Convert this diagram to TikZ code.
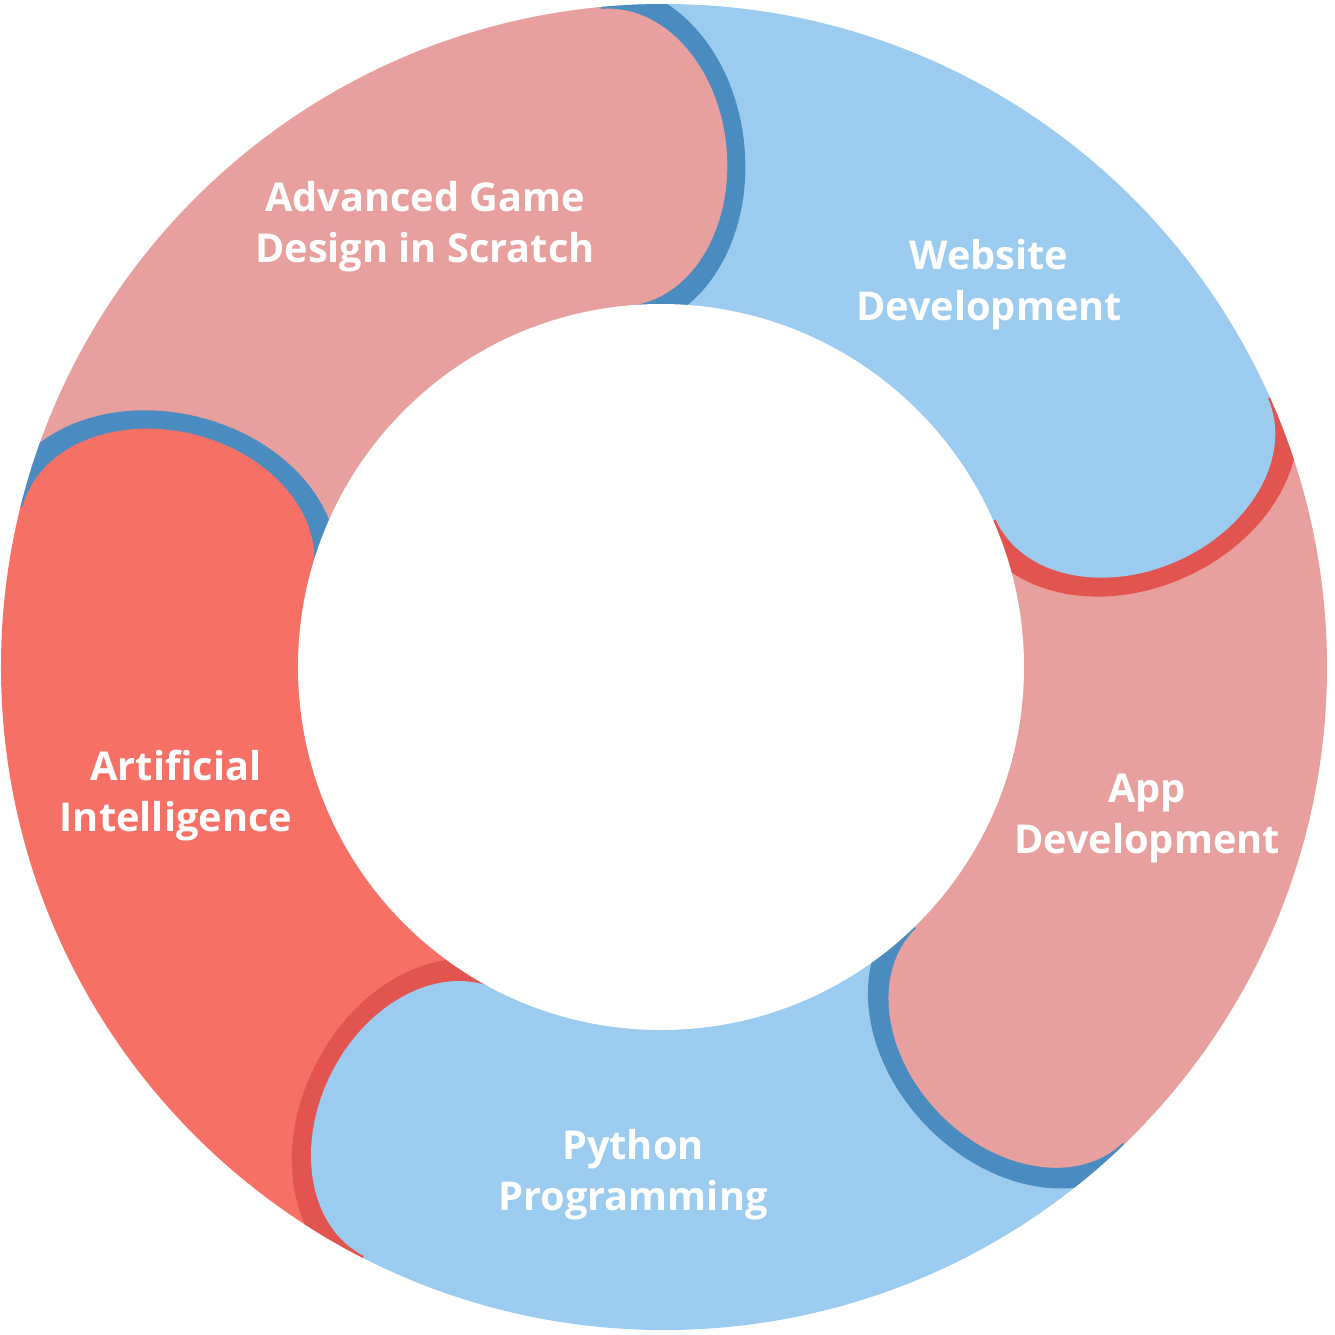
\documentclass[tikz,border=0pt]{standalone}
\usepackage{fontspec}
\setmainfont{Open Sans}
\definecolor{pinkseg}{HTML}{E8A09E}
\definecolor{blueseg}{HTML}{9BCBEE}
\definecolor{redseg}{HTML}{F67066}
\definecolor{blueedge}{HTML}{4A8CC0}
\definecolor{rededge}{HTML}{E25450}
\tikzset{
  lbl/.style={text=white, align=center, font=\bfseries\fontsize{11.3}{14.5}\selectfont},
}
\begin{document}
\begin{tikzpicture}[x=0.01cm, y=0.01cm]
    \useasboundingbox (-664,-668) rectangle (671,667);

    \begin{scope}
        \clip (0,0) circle (663);
        % Ring segments
        \foreach \from/\to/\col in {166/95.5/pinkseg, 95.5/24/blueseg, 24/-46/pinkseg, -46/-117/blueseg, -117/-194/redseg}
            \fill[\col] (0,0) -- (\from:720) arc[start angle=\from, end angle=\to, radius=720] -- cycle;

        % Rounded heads with their rims
        \foreach \ang/\col/\rim in {95.5/pinkseg/blueedge, 24/blueseg/rededge, -46/pinkseg/blueedge, -117/blueseg/rededge, -194/redseg/blueedge}
        {
            \begin{scope}[shift={(\ang:512)}, rotate=\ang-90]
                \fill[\rim] (0,-172) arc[start angle=-90, end angle=90, x radius=130, y radius=172] -- cycle;
                \fill[\col] (-4,-160) -- (0,-160) -- (0,-149) arc[start angle=-90, end angle=90, x radius=112, y radius=149] -- (0,160) -- (-4,160) -- cycle;
            \end{scope}
        }
    \end{scope}

    % Hole
    \fill[white] (-3,0) circle (363);

    % Labels
    \node[lbl] (game) at (-239,440) {Advanced Game\\Design in Scratch};
    \node[lbl] (web) at (325,382) {Website\\Development};
    \node[lbl] (app) at (483,-152) {App\\Development};
    \node[lbl] (python) at (-31,-508) {Python\\Programming};
    \node[lbl] (ai) at (-488,-129) {Artificial\\Intelligence};
\end{tikzpicture}
\end{document}
